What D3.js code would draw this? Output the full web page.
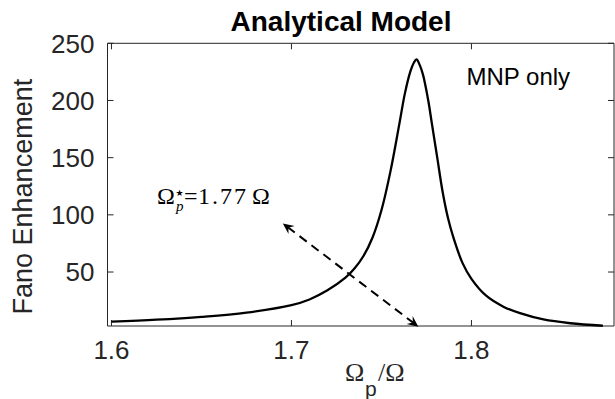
<!DOCTYPE html>
<html>
<head>
<meta charset="utf-8">
<script src="https://cdn.jsdelivr.net/npm/d3@7"></script>
<style>
  html, body { margin: 0; padding: 0; background: #fff; }
  svg { display: block; }
</style>
</head>
<body>
<div id="chart"></div>
<script>
// values
const omegaRatio = [1.600, 1.625, 1.650, 1.675, 1.700, 1.710, 1.720, 1.730, 1.735, 1.740,
                    1.745, 1.750, 1.755, 1.760, 1.763, 1.766, 1.768, 1.7695, 1.771, 1.773,
                    1.776, 1.778, 1.781, 1.784, 1.787, 1.790, 1.795, 1.800, 1.808, 1.818,
                    1.827, 1.840, 1.855, 1.873];
const fanoEnh    = [6.6, 8.3, 10.8, 14.5, 21, 26, 34, 45, 53, 64,
                    80, 104, 138, 180, 206, 225, 233, 236, 232, 223,
                    200, 180, 150, 120, 97, 80, 58, 44, 29.5, 19.5,
                    14, 8.5, 5.2, 3];
const xTicks = [1.6, 1.7, 1.8];
const yTicks = [50, 100, 150, 200, 250];

// annotation anchors, in data units
const arrowTop = [1.6952, 92.5];
const arrowBottom = [1.7705, 2.2];
const noteAt = [1.6253, 109.5];

const width = 615, height = 399;
const plot = { left: 107.5, right: 614, top: 43.3, bottom: 326 };
const ink = '#262626';

const svg = d3.select('#chart').append('svg')
  .attr('width', width)
  .attr('height', height)
  .style('font-family', '"Liberation Sans", Arial, sans-serif');

const x = d3.scaleLinear().domain([1.5978, 1.8792]).range([plot.left, plot.right]);
const y = d3.scaleLinear().domain([2.8, 250]).range([plot.bottom, plot.top]);

// box + inward ticks (matlab style)
const tickLen = 6;
const axisG = svg.append('g').attr('stroke', ink).attr('stroke-width', 1).attr('fill', 'none');
axisG.append('path')
  .attr('d', `M${plot.left},${plot.bottom}V${plot.top}H${plot.right}V${plot.bottom}Z`);

axisG.selectAll('.xt')
  .data(xTicks)
  .join('path')
  .attr('class', 'xt')
  .attr('d', d => `M${x(d)},${plot.bottom}v${-tickLen}M${x(d)},${plot.top}v${tickLen}`);

axisG.selectAll('.yt')
  .data(yTicks)
  .join('path')
  .attr('class', 'yt')
  .attr('d', d => `M${plot.left},${y(d)}h${tickLen}M${plot.right},${y(d)}h${-tickLen}`);

svg.append('g')
  .selectAll('text')
  .data(xTicks)
  .join('text')
  .attr('x', d => x(d))
  .attr('y', plot.bottom + 33)
  .attr('text-anchor', 'middle')
  .attr('font-size', 26)
  .attr('fill', ink)
  .text(d => d3.format('.1f')(d));

svg.append('g')
  .selectAll('text')
  .data(yTicks)
  .join('text')
  .attr('x', plot.left - 13)
  .attr('y', d => y(d))
  .attr('dy', '0.36em')
  .attr('text-anchor', 'end')
  .attr('font-size', 26)
  .attr('fill', ink)
  .text(d => d);

// curve
const line = d3.line()
  .x((d, i) => x(omegaRatio[i]))
  .y(d => y(d))
  .curve(d3.curveCatmullRom.alpha(0.5));

svg.append('path')
  .datum(fanoEnh)
  .attr('d', line)
  .attr('fill', 'none')
  .attr('stroke', '#000')
  .attr('stroke-width', 2.3)
  .attr('stroke-linejoin', 'round');

// dashed double arrow
const p0 = [x(arrowTop[0]), y(arrowTop[1])];
const p1 = [x(arrowBottom[0]), y(arrowBottom[1])];
const ang = Math.atan2(p1[1] - p0[1], p1[0] - p0[0]);
const headLen = 11, headW = 5, notch = 7;

svg.append('line')
  .attr('x1', p0[0] + Math.cos(ang) * 6).attr('y1', p0[1] + Math.sin(ang) * 6)
  .attr('x2', p1[0] - Math.cos(ang) * 6).attr('y2', p1[1] - Math.sin(ang) * 6)
  .attr('stroke', '#000')
  .attr('stroke-width', 2)
  .attr('stroke-dasharray', '9,6');

function head(tip, a) {
  // a = direction the arrow points
  const c = Math.cos(a), s = Math.sin(a);
  const bx = tip[0] - c * headLen, by = tip[1] - s * headLen;
  const nx = tip[0] - c * notch, ny = tip[1] - s * notch;
  return `M${tip[0]},${tip[1]}L${bx - s * headW},${by + c * headW}L${nx},${ny}L${bx + s * headW},${by - c * headW}Z`;
}
svg.append('path').attr('d', head(p0, ang + Math.PI)).attr('fill', '#000');
svg.append('path').attr('d', head(p1, ang)).attr('fill', '#000');

// latex-ish note
const note = svg.append('g')
  .attr('transform', `translate(${x(noteAt[0])},${y(noteAt[1])})`)
  .style('font-family', '"Liberation Serif", "DejaVu Serif", serif')
  .attr('fill', '#000');
note.append('text').attr('x', 0).attr('font-size', 24).text('Ω');
note.append('text').attr('x', 18.5).attr('y', -8).attr('font-size', 9)
  .style('font-family', '"DejaVu Sans", sans-serif').text('★');
note.append('text').attr('x', 19).attr('y', 7).attr('font-size', 15).attr('font-style', 'italic').text('p');
note.append('text').attr('x', 27).attr('font-size', 24).attr('textLength', 14).text('=');
note.append('text').attr('x', 41).attr('font-size', 24).attr('textLength', 48).text('1.77');
note.append('text').attr('x', 95).attr('font-size', 24).text('Ω');

// MNP only
svg.append('text')
  .attr('x', 466.5)
  .attr('y', 85)
  .attr('font-size', 24)
  .attr('fill', '#000')
  .text('MNP only');

// title
svg.append('text')
  .attr('x', 341)
  .attr('y', 31)
  .attr('text-anchor', 'middle')
  .attr('font-size', 28)
  .attr('font-weight', 'bold')
  .attr('fill', '#000')
  .text('Analytical Model');

// axis labels
svg.append('text')
  .attr('transform', `translate(32,${(plot.top + plot.bottom) / 2 + 12}) rotate(-90)`)
  .attr('text-anchor', 'middle')
  .attr('font-size', 27)
  .attr('fill', ink)
  .text('Fano Enhancement');

const xl = svg.append('g').attr('transform', `translate(345,381)`).attr('fill', ink);
xl.append('text').attr('x', 0).attr('font-size', 26)
  .style('font-family', '"Liberation Serif", serif').text('Ω');
xl.append('text').attr('x', 20).attr('y', 15).attr('font-size', 21).text('p');
xl.append('text').attr('x', 33).attr('font-size', 26)
  .style('font-family', '"Liberation Serif", serif').text('/Ω');
</script>
</body>
</html>
